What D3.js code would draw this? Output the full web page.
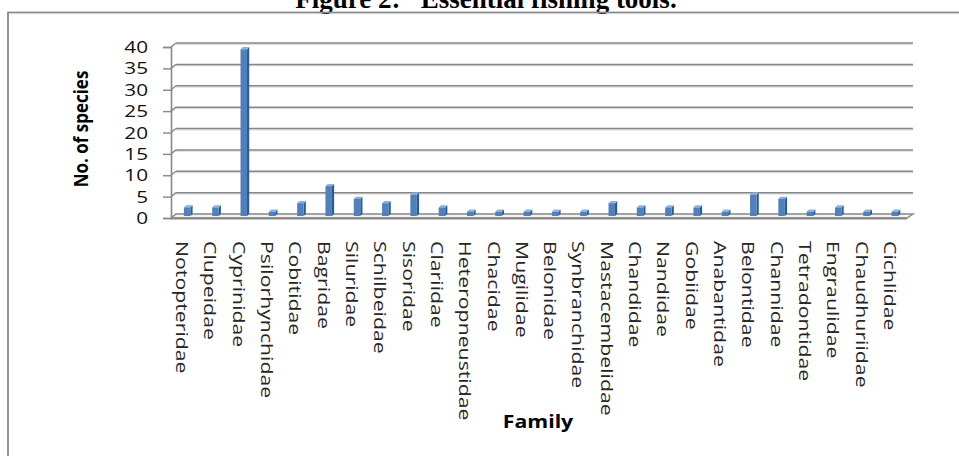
<!DOCTYPE html>
<html>
<head>
<meta charset="utf-8">
<script src="https://cdn.jsdelivr.net/npm/d3@7"></script>
<style>
  body { margin: 0; background: #fff; }
  svg { display: block; }
</style>
</head>
<body>
<div id="chart"></div>
<script>
// data
const families = ["Notopteridae", "Clupeidae", "Cyprinidae", "Psilorhynchidae", "Cobitidae",
  "Bagridae", "Siluridae", "Schilbeidae", "Sisoridae", "Clariidae", "Heteropneustidae",
  "Chacidae", "Mugilidae", "Belonidae", "Synbranchidae", "Mastacembelidae", "Chandidae",
  "Nandidae", "Gobiidae", "Anabantidae", "Belontidae", "Channidae", "Tetradontidae",
  "Engraulidae", "Chaudhuriidae", "Cichlidae"];
const species = [2, 2, 39, 1, 3, 7, 4, 3, 5, 2, 1, 1, 1, 1, 1, 3, 2, 2, 2, 1, 5, 4, 1, 2, 1, 1];
const yTicks = [0, 5, 10, 15, 20, 25, 30, 35, 40];

const W = 959, H = 456;
const svg = d3.select("#chart").append("svg")
    .attr("width", W)
    .attr("height", H);

// page title, cut off at top like in the scan
svg.append("text")
    .attr("x", 486)
    .attr("y", 7.5)
    .attr("text-anchor", "middle")
    .style("font-family", "'Liberation Serif', serif")
    .style("font-weight", "bold")
    .style("font-size", "27px")
    .style("white-space", "pre")
    .attr("xml:space", "preserve")
    .text("Figure 2:   Essential fishing tools.");

// chart frame
svg.append("rect")
    .attr("x", 8).attr("y", 12.5)
    .attr("width", 1000).attr("height", 500)
    .attr("fill", "none")
    .attr("stroke", "#8a8a8a")
    .attr("stroke-width", 1.8);

// 3d depth offset of the back wall
const dx = 5, dy = 4;

const x = d3.scaleBand()
    .domain(families)
    .range([171, 907]);

// back wall scale
const y = d3.scaleLinear()
    .domain([0, 40])
    .range([214, 43]);

// gridlines on the back wall + side wall edges
const grid = svg.append("g");
yTicks.forEach(function (t) {
  if (t === 0) return;
  grid.append("line")
      .attr("x1", 171 + dx).attr("x2", 913)
      .attr("y1", y(t) + 1.3).attr("y2", y(t) + 1.3)
      .attr("stroke", "#dcdcdc").attr("stroke-width", 1.2);
  grid.append("line")
      .attr("x1", 171 + dx).attr("x2", 913)
      .attr("y1", y(t)).attr("y2", y(t))
      .attr("stroke", "#878787").attr("stroke-width", 1.5);
  grid.append("line")
      .attr("x1", 171).attr("x2", 171 + dx)
      .attr("y1", y(t) + dy).attr("y2", y(t))
      .attr("stroke", "#878787").attr("stroke-width", 1.4);
});

// floor
svg.append("polygon")
    .attr("points", [[171, 218], [171 + dx, 214], [913, 214], [907, 218]].map(p => p.join(",")).join(" "))
    .attr("fill", "#f4f4f4")
    .attr("stroke", "#878787")
    .attr("stroke-width", 1.4);
svg.append("line")
    .attr("x1", 171).attr("x2", 907)
    .attr("y1", 218.5).attr("y2", 218.5)
    .attr("stroke", "#878787").attr("stroke-width", 2);

// y axis (front)
const yFront = d3.scaleLinear().domain([0, 40]).range([y(0) + dy, y(40) + dy]);
const yAxis = svg.append("g")
    .attr("transform", "translate(171,0)")
    .call(d3.axisLeft(yFront).tickValues(yTicks).tickSize(8).tickFormat(""));
yAxis.select(".domain").attr("stroke", "#878787").attr("stroke-width", 1.6);
yAxis.selectAll(".tick line").attr("stroke", "#878787").attr("stroke-width", 1.4);

svg.append("g").selectAll("text")
    .data(yTicks)
    .enter()
    .append("text")
    .attr("transform", d => `translate(148, ${yFront(d)}) scale(1.22,1)`)
    .attr("text-anchor", "end")
    .attr("dy", "0.36em")
    .style("font-family", "'Open Sans', sans-serif")
    .style("font-size", "17px")
    .style("fill", "#111")
    .text(d => d);

// bars (3d columns)
const bars = svg.append("g");
const bw = 6.5, side = 2.2;
families.forEach(function (f, i) {
  const cx = x(f) + x.bandwidth() / 2 + 2;
  const xl = cx - bw / 2, xr = cx + bw / 2;
  const top = y(species[i]) + 2, bottom = 216;
  bars.append("polygon")
      .attr("points", [[xr, top], [xr + side, top - side], [xr + side, bottom - side], [xr, bottom]].join(" "))
      .attr("fill", "#2f5a8e");
  bars.append("polygon")
      .attr("points", [[xl, top], [xl + side, top - side], [xr + side, top - side], [xr, top]].join(" "))
      .attr("fill", "#8fb0da");
  bars.append("rect")
      .attr("x", xl).attr("y", top)
      .attr("width", bw).attr("height", bottom - top)
      .attr("fill", "#4f81bd");
});

// category labels, reading downwards
svg.append("g").selectAll("text")
    .data(families)
    .enter()
    .append("text")
    .attr("transform", d => `translate(${x(d) + x.bandwidth() / 2 - 9}, 241) rotate(90) scale(1.33,1)`)
    .style("font-family", "'Open Sans', sans-serif")
    .style("font-size", "16px")
    .style("fill", "#262626")
    .text(d => d);

// axis titles
svg.append("text")
    .attr("transform", "translate(88,129) rotate(-90) scale(1,1.15)")
    .attr("text-anchor", "middle")
    .style("font-family", "'Open Sans', sans-serif")
    .style("font-weight", "bold")
    .style("font-size", "17px")
    .text("No. of species");

svg.append("text")
    .attr("transform", "translate(538,428) scale(1.25,1)")
    .attr("text-anchor", "middle")
    .style("font-family", "'Open Sans', sans-serif")
    .style("font-weight", "bold")
    .style("font-size", "17px")
    .text("Family");
</script>
</body>
</html>
